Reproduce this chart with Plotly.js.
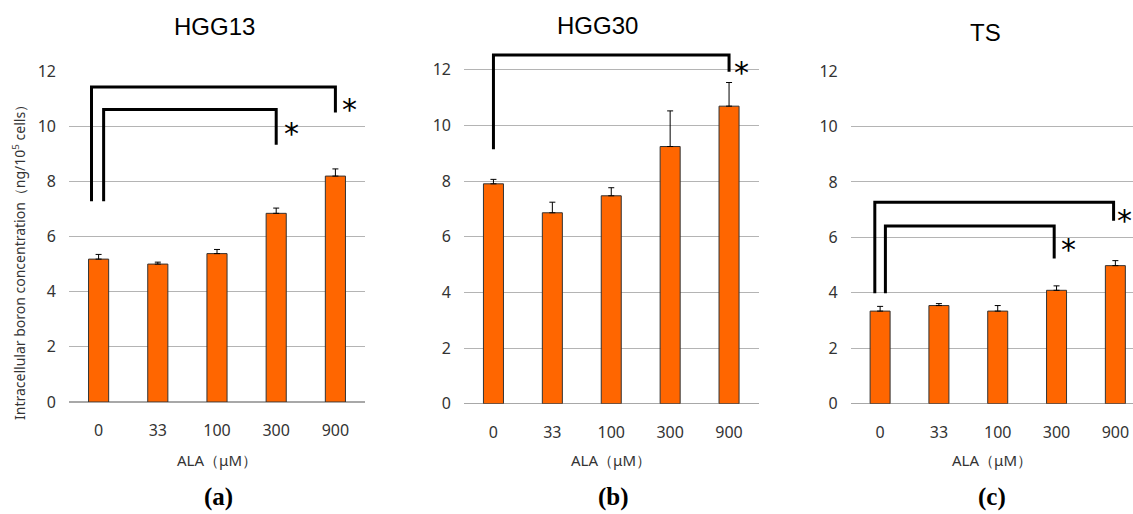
<!DOCTYPE html>
<html>
<head>
<meta charset="utf-8">
<script src="https://cdn.plot.ly/plotly-3.0.1.min.js"></script>
<style>html,body{margin:0;padding:0;background:#fff;}#chart{width:1133px;height:514px;}</style>
</head>
<body>
<div id="chart"></div>
<script>
// ---- data ----
const categories = ['0', '33', '100', '300', '900'];
const panelTitles = ['HGG13', 'HGG30', 'TS'];
const panelLabels = ['(a)', '(b)', '(c)'];

const hgg13 = [5.18, 5.00, 5.38, 6.84, 8.19];
const hgg13Err = [0.17, 0.07, 0.15, 0.19, 0.26];
const hgg30 = [7.90, 6.86, 7.47, 9.24, 10.69];
const hgg30Err = [0.16, 0.38, 0.29, 1.28, 0.85];
const ts = [3.34, 3.54, 3.34, 4.09, 4.98];
const tsErr = [0.17, 0.07, 0.20, 0.16, 0.18];

// significance brackets: [from, to, top, fromBase, toBase]
const hgg13Brackets = [[-0.12, 4.0, 11.42, 7.28, 10.5], [0.085, 3.0, 10.6, 7.28, 9.33]];
const hgg30Brackets = [[0.0, 4.0, 12.53, 9.14, 11.93]];
const tsBrackets = [[-0.09, 3.97, 7.27, 3.98, 6.6], [0.09, 2.96, 6.41, 3.98, 5.24]];
// asterisks: [x, y]
const hgg13Stars = [[4.23, 10.88], [3.25, 10.04]];
const hgg30Stars = [[4.21, 12.2]];
const tsStars = [[4.16, 6.88], [3.2, 5.84]];

const yTitle = 'Intracellular boron concentration（ng/10<sup>5</sup> cells）';
const xTitle = 'ALA（μM）';

// ---- build ----
const xIdx = categories.map((_, i) => i);
const panels = [
  {vals: hgg13, errs: hgg13Err, br: hgg13Brackets, st: hgg13Stars, xa: 'x', ya: 'y'},
  {vals: hgg30, errs: hgg30Err, br: hgg30Brackets, st: hgg30Stars, xa: 'x2', ya: 'y2'},
  {vals: ts, errs: tsErr, br: tsBrackets, st: tsStars, xa: 'x3', ya: 'y3'}
];

const traces = [];
const annotations = [];
panels.forEach((p) => {
  traces.push({
    type: 'bar', x: xIdx, y: p.vals, xaxis: p.xa, yaxis: p.ya, width: 0.34,
    marker: {color: '#FF6600', line: {color: '#333333', width: 1}},
    error_y: {type: 'data', array: p.errs, arrayminus: p.errs.map(() => 0), symmetric: false,
              color: '#000', thickness: 1, width: 3},
    hoverinfo: 'skip', showlegend: false
  });
  p.br.forEach((b) => {
    traces.push({
      type: 'scatter', mode: 'lines', x: [b[0], b[0], b[1], b[1]], y: [b[3], b[2], b[2], b[4]],
      xaxis: p.xa, yaxis: p.ya, cliponaxis: false,
      line: {color: '#000', width: 3}, hoverinfo: 'skip', showlegend: false
    });
  });
  p.st.forEach((s) => {
    annotations.push({
      xref: p.xa, yref: p.ya, x: s[0], y: s[1], text: '*', showarrow: false,
      font: {family: 'DejaVu Sans', size: 30, color: '#000'}, yshift: -8
    });
  });
});

const gridCol = '#b4b4b4';
const tickFont = {family: 'Noto Sans', size: 16, color: '#333'};
function yax(domain, top) {
  return {domain: domain, range: [0, top], tickvals: [0, 2, 4, 6, 8, 10, 12], showgrid: true, gridcolor: gridCol, gridwidth: 1,
          zeroline: true, zerolinecolor: '#a8a8a8', zerolinewidth: 1.3, showline: false,
          ticks: '', ticklabelstandoff: 12, fixedrange: true, tickfont: tickFont};
}
function xax(domain, range, anchor) {
  return {domain: domain, range: range, anchor: anchor, tickvals: xIdx, ticktext: categories,
          showgrid: false, zeroline: false, showline: false, ticks: '', ticklabelstandoff: 17,
          fixedrange: true, tickfont: tickFont};
}
const W = 1133, H = 514;
const layout = {
  width: W, height: H, margin: {l: 0, r: 0, t: 0, b: 0},
  paper_bgcolor: '#fff', plot_bgcolor: 'rgba(0,0,0,0)',
  xaxis: xax([69 / W, 365 / W], [-0.5, 4.5], 'y'),
  yaxis: Object.assign(yax([112 / H, 443 / H], 12), {anchor: 'x'}),
  xaxis2: xax([464 / W, 758.5 / W], [-0.5, 4.5], 'y2'),
  yaxis2: Object.assign(yax([110.3 / H, (444.3 + 0.7 * 27.83) / H], 12.7), {anchor: 'x2'}),
  xaxis3: xax([850.7 / W, 1], [-0.5, 4.3], 'y3'),
  yaxis3: Object.assign(yax([110.3 / H, 443 / H], 12), {anchor: 'x3'}),
  annotations: annotations,
  showlegend: false
};

const titleX = [214, 598, 985], titleY = [26, 25, 32];
const xtX = [217, 611, 992], xtY = 460;
const labX = [218, 613, 992], labY = 497;
panelTitles.forEach((t, i) => {
  annotations.push({xref: 'paper', yref: 'paper', x: titleX[i] / W, y: 1 - titleY[i] / H, text: t,
    showarrow: false, xanchor: 'center', yanchor: 'middle',
    font: {family: 'Liberation Sans', size: 24, color: '#000'}});
  annotations.push({xref: 'paper', yref: 'paper', x: xtX[i] / W, y: 1 - xtY / H, text: xTitle,
    showarrow: false, xanchor: 'center', yanchor: 'middle',
    font: {family: 'Noto Sans', size: 15, color: '#333'}});
  annotations.push({xref: 'paper', yref: 'paper', x: labX[i] / W, y: 1 - labY / H, text: '<b>' + panelLabels[i] + '</b>',
    showarrow: false, xanchor: 'center', yanchor: 'middle',
    font: {family: 'Liberation Serif', size: 25, color: '#000'}});
});
annotations.push({xref: 'paper', yref: 'paper', x: 19 / W, y: 1 - 259 / H, text: yTitle, textangle: -90,
  showarrow: false, xanchor: 'center', yanchor: 'middle',
  font: {family: 'Noto Sans', size: 14, color: '#333'}});

Plotly.newPlot('chart', traces, layout, {staticPlot: true, displayModeBar: false});
</script>
</body>
</html>
